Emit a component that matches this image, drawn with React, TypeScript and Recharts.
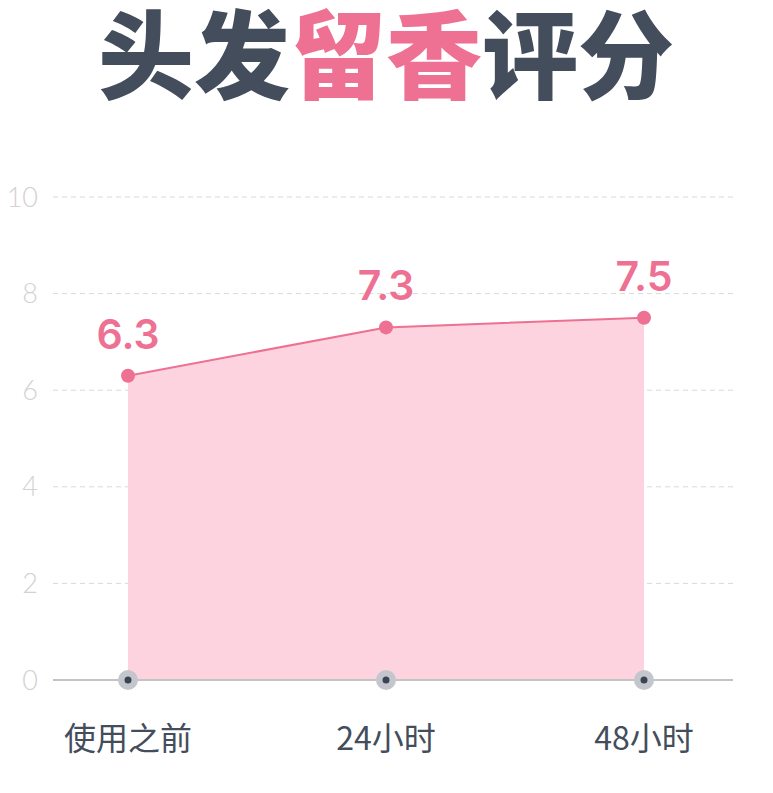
import React from "react";
import { AreaChart, Area, XAxis, YAxis, CartesianGrid, LabelList } from "recharts";

const CATEGORIES = ["使用之前", "24小时", "48小时"];
const SCORES = [6.3, 7.3, 7.5];
const Y_TICKS = [0, 2, 4, 6, 8, 10];

const TITLE_DARK = ["头发"];
const TITLE_PINK = ["留香"];
const TITLE_TAIL = ["评分"];

const data = CATEGORIES.map((name, i) => ({ name, score: SCORES[i] }));

const PINK = "#ee7193";
const DARK = "#434d5c";
const TICK_MARGIN = 47;

function XTick(props: any) {
  const { x, y, payload } = props;
  const axisY = y - TICK_MARGIN;
  return (
    <g>
      <circle cx={x} cy={axisY} r={10} fill="#c3c6cc" />
      <circle cx={x} cy={axisY} r={3.5} fill="#3c4454" />
      <text x={x} y={y} dy="0.71em" textAnchor="middle" fill={DARK} fontSize={32} fontFamily="'Noto Sans CJK SC', sans-serif">
        {payload.value}
      </text>
    </g>
  );
}

export default function App() {
  return (
    <div style={{ position: "absolute", left: 0, top: 0, width: 773, height: 793, background: "#fff", overflow: "hidden" }}>
      <svg width={773} height={130} style={{ position: "absolute", left: 0, top: 0 }}>
        <text
          x={386}
          y={91}
          textAnchor="middle"
          fontFamily="'Noto Sans CJK SC', sans-serif"
          fontWeight={900}
          fontSize={96}
          fill={DARK}
        >
          {TITLE_DARK[0]}
          <tspan fill={PINK}>{TITLE_PINK[0]}</tspan>
          {TITLE_TAIL[0]}
        </text>
      </svg>
      <div style={{ position: "absolute", left: 0, top: 0 }}>
        <AreaChart width={773} height={793} data={data} margin={{ top: 197, right: 40, bottom: 0, left: 0 }}>
          <CartesianGrid vertical={false} stroke="#d9d9d9" strokeDasharray="5 4" />
          <YAxis
            domain={[0, 10]}
            ticks={Y_TICKS}
            width={53}
            axisLine={false}
            tickLine={false}
            tickSize={0}
            tickMargin={15}
            tick={{ fill: "#d2d2d2", fontSize: 27, fontFamily: "Lato, sans-serif", fontWeight: 300 }}
          />
          <Area
            dataKey="score"
            type="linear"
            stroke={PINK}
            strokeWidth={2}
            fill="#fcd3de"
            fillOpacity={1}
            dot={{ r: 7, fill: PINK, stroke: PINK, strokeWidth: 0 }}
            activeDot={false}
            isAnimationActive={false}
          >
            <LabelList
              dataKey="score"
              position="top"
              offset={27}
              fill={PINK}
              fontSize={41}
              fontWeight={600}
              fontFamily="Inter, sans-serif"
            />
          </Area>
          <XAxis
            dataKey="name"
            padding={{ left: 75, right: 89 }}
            axisLine={{ stroke: "#c4c4c4", strokeWidth: 2 }}
            tickLine={false}
            tickSize={0}
            tickMargin={TICK_MARGIN}
            height={113}
            interval={0}
            tick={<XTick />}
          />
        </AreaChart>
      </div>
    </div>
  );
}
